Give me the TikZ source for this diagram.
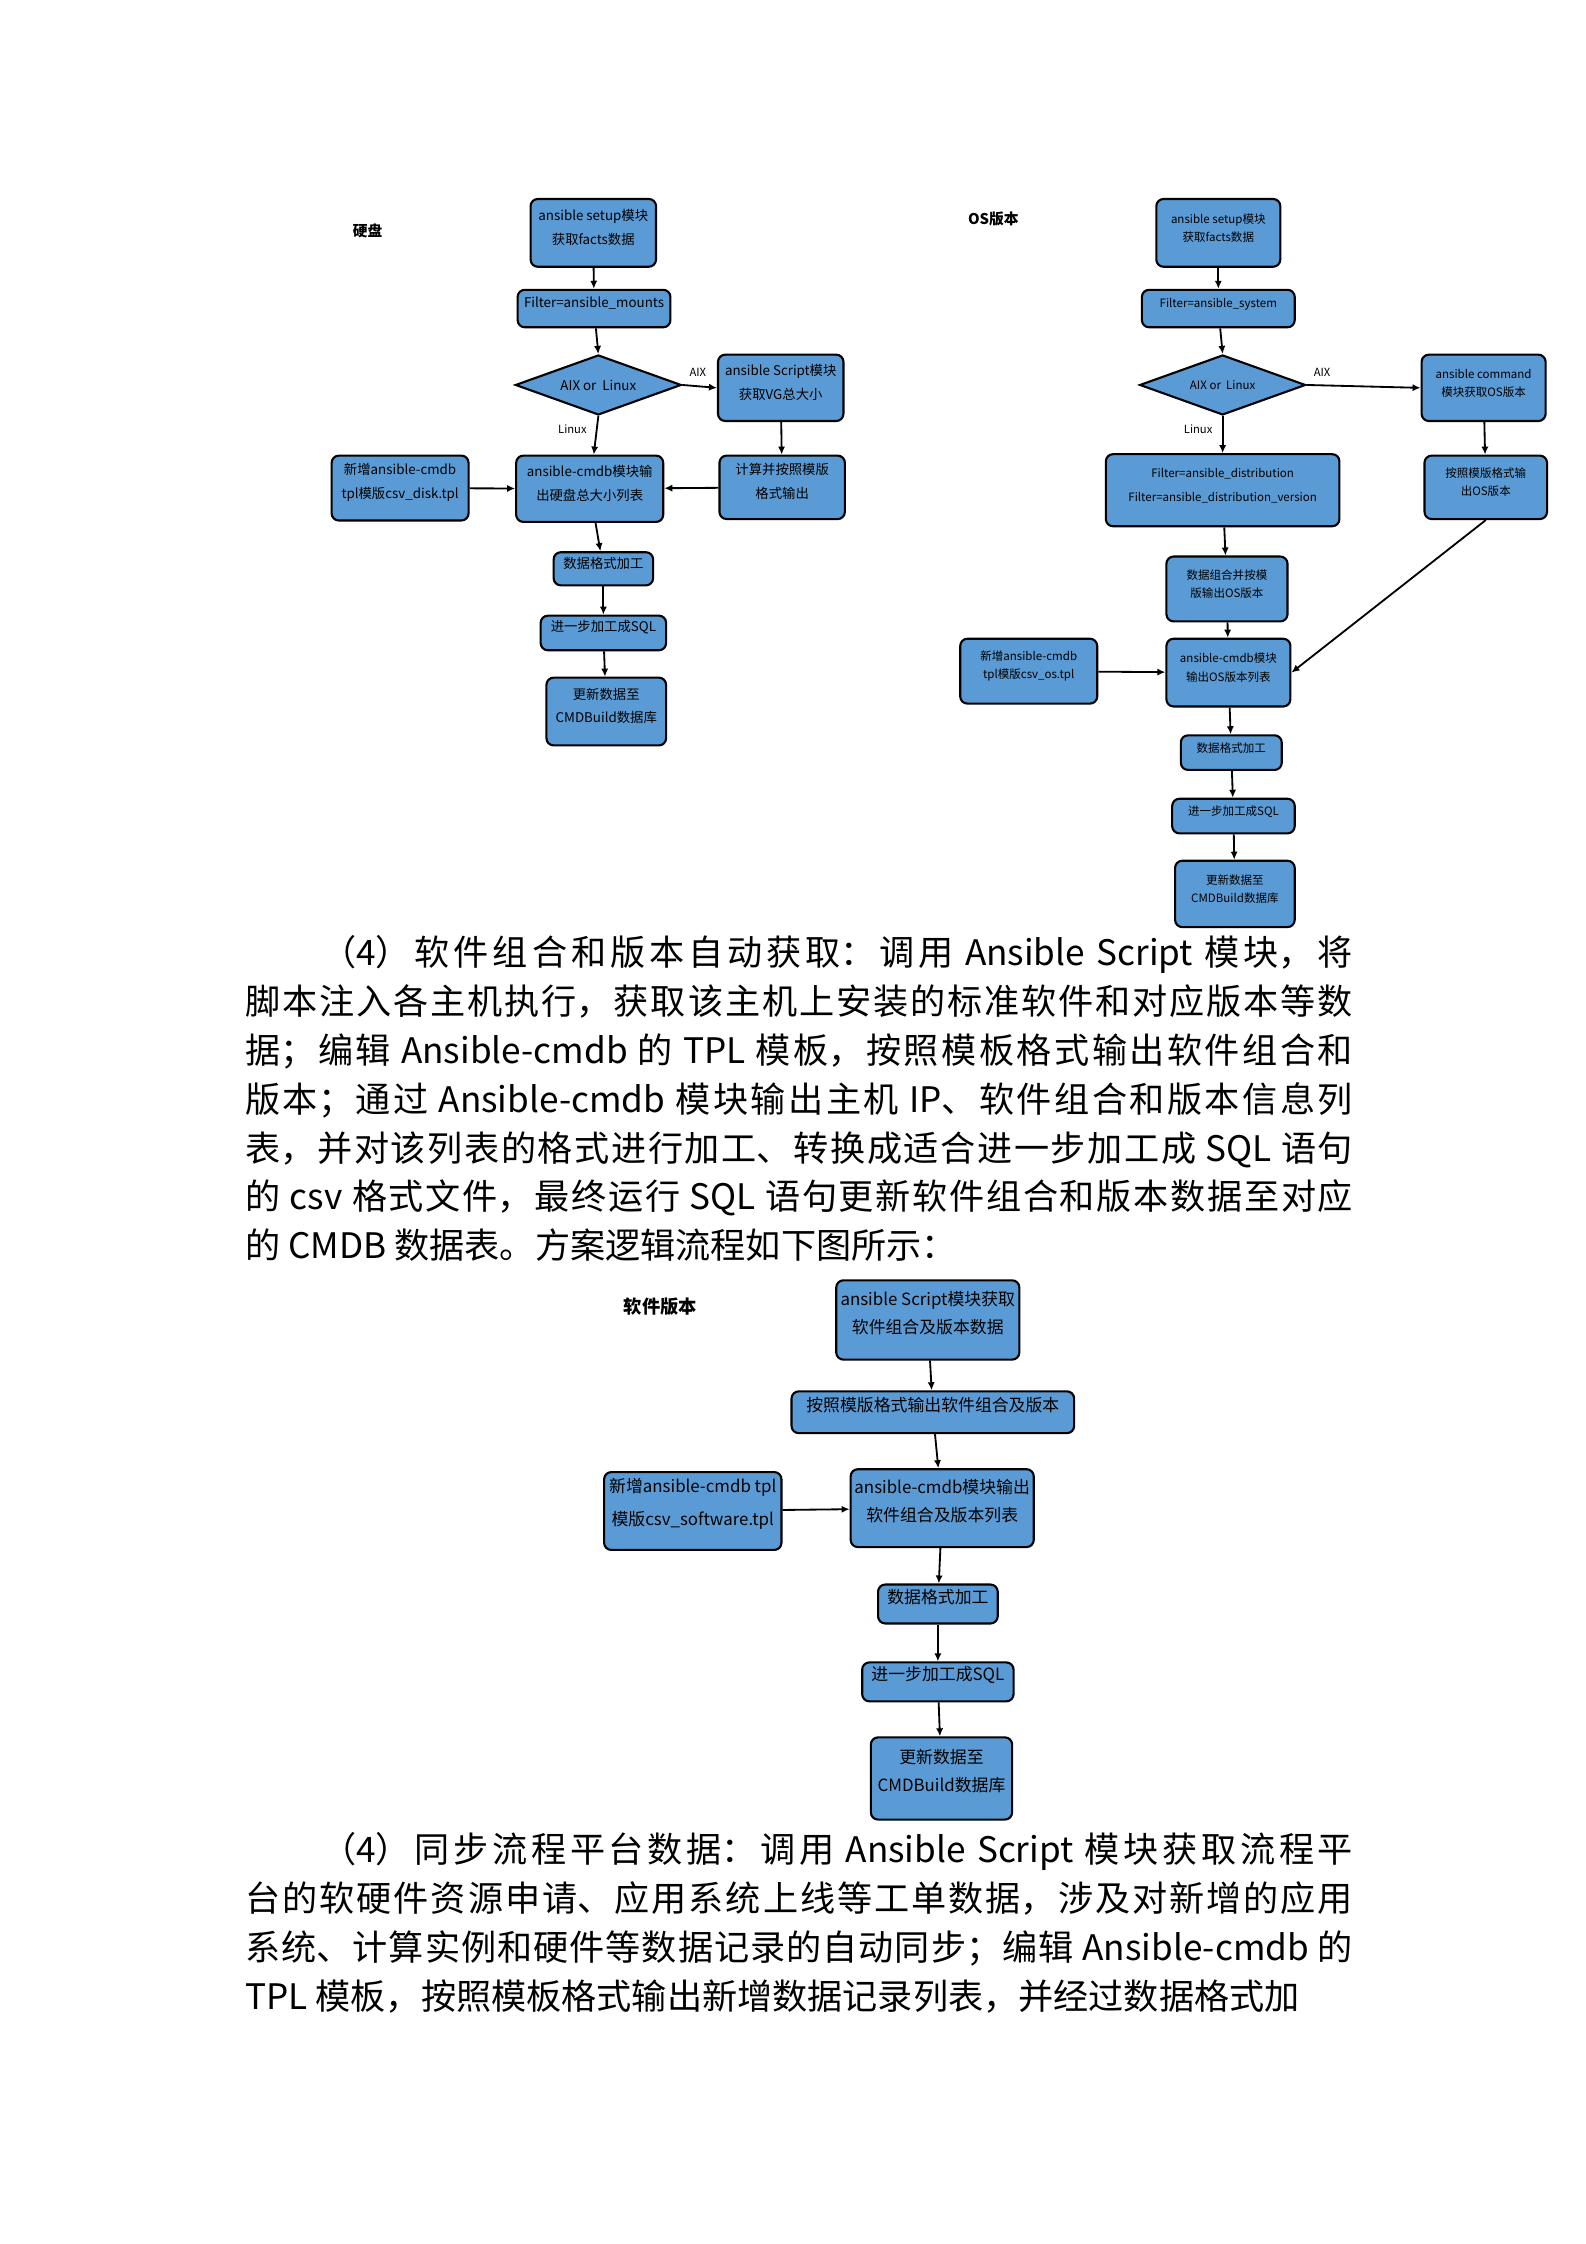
\documentclass[tikz,border=0pt]{standalone}
\usepackage{fontspec}
\setmainfont{Noto Sans CJK SC}
\usetikzlibrary{shapes.geometric,fit,arrows.meta}
\XeTeXlinebreaklocale "zh"
\XeTeXlinebreakskip=0pt plus 3pt
\definecolor{boxblue}{HTML}{5B9BD5}
\tikzset{
  x=0.3605mm, y=-0.3605mm,
  box/.style={draw=black, line width=1.5pt, fill=boxblue, rounded corners=1.8mm, inner sep=0pt, align=center},
  dia/.style={draw=black, line width=1.5pt, fill=boxblue, shape=diamond, inner sep=0pt, aspect=3},
  arr/.style={line width=1.3pt, -{Latex[length=2mm,width=1.8mm]}},
  fa/.style={font=\fontsize{9.5}{17}\selectfont},
  fb/.style={font=\fontsize{8.2}{13}\selectfont},
  fbw/.style={font=\fontsize{8.2}{17}\selectfont},
  fc/.style={font=\fontsize{12}{20}\selectfont},
  fcw/.style={font=\fontsize{12}{24}\selectfont},
  lab/.style={font=\fontsize{8}{10}\selectfont},
  ttl/.style={font=\bfseries\fontsize{10.5}{12}\selectfont},
  para/.style={anchor=north west, inner sep=0pt, text width=788pt, align=justify, font=\fontsize{25}{34.8}\selectfont}
}
\begin{document}
\begin{tikzpicture}
\useasboundingbox[fill=white] (0,0) rectangle (1100,1556.4);
% ---------- Diagram 1 ----------
\node[ttl] (t1) at (255,160) {硬盘};
\node[box,fa,fit={(368,138) (455,185)}] (a1) {ansible setup模块\\获取facts数据};
\node[box,fa,fit={(359,201) (465,227)}] (b1) {Filter=ansible\_mounts};
\node[dia,fa,minimum width=41.5mm,minimum height=15mm] (c1) at (415,267) {AIX or\ \ Linux};
\node[box,fa,fit={(498,246) (585,292)}] (e1) {ansible Script模块\\获取VG总大小};
\node[box,fa,fit={(499,316) (586,360)}] (f1) {计算并按照模版\\格式输出};
\node[box,fa,fit={(358,316) (460,362)}] (g1) {ansible-cmdb模块输\\出硬盘总大小列表};
\node[box,fa,align=left,fit={(230,316) (325,361)}] (h1) {新增ansible-cmdb\\tpl模版csv\_disk.tpl};
\node[box,fa,fit={(384,383) (453,406)}] (i1) {数据格式加工};
\node[box,fa,fit={(375,427) (462,451)}] (j1) {进一步加工成SQL};
\node[box,fa,fit={(379,470) (462,517)}] (k1) {更新数据至\\CMDBuild数据库};
\node[lab] (l1a) at (484,258) {AIX};
\node[lab] (l1b) at (397,298) {Linux};
\draw[arr] (a1) -- (b1);
\draw[arr] (b1) -- (c1.north);
\draw[arr] (c1.south) -- (g1);
\draw[arr] (c1.east) -- (e1.west);
\draw[arr] (e1) -- (f1);
\draw[arr] (f1) -- (g1);
\draw[arr] (h1) -- (g1);
\draw[arr] (g1) -- (i1);
\draw[arr] (i1) -- (j1);
\draw[arr] (j1) -- (k1);
% ---------- Diagram 2 ----------
\node[ttl] (t2) at (689,152) {OS版本};
\node[box,fb,fit={(802,138) (888,185)}] (a2) {ansible setup模块\\获取facts数据};
\node[box,fb,fit={(792,201) (898,227)}] (b2) {Filter=ansible\_system};
\node[dia,fb,minimum width=41.5mm,minimum height=15mm] (c2) at (848,267) {AIX or\ \ Linux};
\node[box,fb,fit={(986,246) (1072,292)}] (e2) {ansible command\\模块获取OS版本};
\node[box,fbw,align=left,fit={(767,315) (929,365)}] (f2) {Filter=ansible\_distribution\\Filter=ansible\_distribution\_version};
\node[box,fb,fit={(988,316) (1073,360)}] (g2) {按照模版格式输\\出OS版本};
\node[box,fb,fit={(809,386) (893,431)}] (h2) {数据组合并按模\\版输出OS版本};
\node[box,fb,fit={(809,443) (895,490)}] (m2) {ansible-cmdb模块\\输出OS版本列表};
\node[box,fb,align=left,fit={(666,443) (761,488)}] (n2) {新增ansible-cmdb\\tpl模版csv\_os.tpl};
\node[box,fb,fit={(819,510) (889,534)}] (i2) {数据格式加工};
\node[box,fb,fit={(813,554) (898,578)}] (j2) {进一步加工成SQL};
\node[box,fb,fit={(815,597) (898,643)}] (k2) {更新数据至\\CMDBuild数据库};
\node[lab] (l2a) at (917,258) {AIX};
\node[lab] (l2b) at (831,298) {Linux};
\draw[arr] (a2) -- (b2);
\draw[arr] (b2) -- (c2.north);
\draw[arr] (c2.south) -- (f2);
\draw[arr] (c2.east) -- (e2.west);
\draw[arr] (e2) -- (g2);
\draw[arr] (f2) -- (h2);
\draw[arr] (h2) -- (m2);
\draw[arr] (g2.south) -- (m2.east);
\draw[arr] (n2) -- (m2);
\draw[arr] (m2) -- (i2);
\draw[arr] (i2) -- (j2);
\draw[arr] (j2) -- (k2);
% ---------- Paragraph 1 ----------
\node[para] (p1) at (170,648.5) {\hspace*{54pt}（4）软件组合和版本自动获取：调用 Ansible Script 模块，将\linebreak
脚本注入各主机执行，获取该主机上安装的标准软件和对应版本等数\linebreak
据；编辑 Ansible-cmdb 的 TPL 模板，按照模板格式输出软件组合和\linebreak
版本；通过 Ansible-cmdb 模块输出主机 IP、软件组合和版本信息列\linebreak
表，并对该列表的格式进行加工、转换成适合进一步加工成 SQL 语句\linebreak
的 csv 格式文件，最终运行 SQL 语句更新软件组合和版本数据至对应\linebreak
的 CMDB 数据表。方案逻辑流程如下图所示：};
% ---------- Diagram 3 ----------
\node[ttl,font=\bfseries\fontsize{13}{15}\selectfont] (t3) at (458,906) {软件版本};
\node[box,fc,fit={(580,888) (707,943)}] (a3) {ansible Script模块获取\\软件组合及版本数据};
\node[box,fc,fit={(549,965) (745,994)}] (b3) {按照模版格式输出软件组合及版本};
\node[box,fc,fit={(590,1019) (717,1073)}] (c3) {ansible-cmdb模块输出\\软件组合及版本列表};
\node[box,fcw,align=left,fit={(419,1021) (542,1075)}] (d3) {新增ansible-cmdb tpl\\模版csv\_software.tpl};
\node[box,fc,fit={(609,1099) (692,1126)}] (e3) {数据格式加工};
\node[box,fc,fit={(598,1153) (703,1180)}] (f3) {进一步加工成SQL};
\node[box,fc,fit={(604,1205) (702,1262)}] (g3) {更新数据至\\CMDBuild数据库};
\draw[arr] (a3) -- (b3);
\draw[arr] (b3) -- (c3);
\draw[arr] (d3) -- (c3);
\draw[arr] (c3) -- (e3);
\draw[arr] (e3) -- (f3);
\draw[arr] (f3) -- (g3);
% ---------- Paragraph 2 ----------
\node[para] (p2) at (170,1271) {\parfillskip=0pt\hspace*{54pt}（4）同步流程平台数据：调用 Ansible Script 模块获取流程平\linebreak
台的软硬件资源申请、应用系统上线等工单数据，涉及对新增的应用\linebreak
系统、计算实例和硬件等数据记录的自动同步；编辑 Ansible-cmdb 的\linebreak
TPL 模板，按照模板格式输出新增数据记录列表，并经过数据格式加};
\end{tikzpicture}
\end{document}
